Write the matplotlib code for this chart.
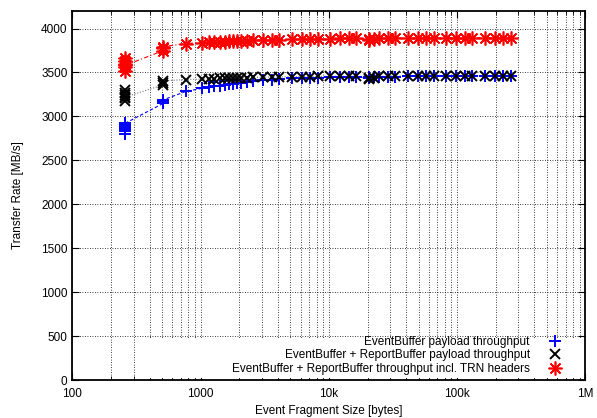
import matplotlib
matplotlib.use("Agg")
import matplotlib.pyplot as plt
from matplotlib.ticker import FixedLocator, LogLocator, NullFormatter, FuncFormatter
from matplotlib.patches import Rectangle

plt.rcParams['font.family'] = ['Liberation Sans', 'DejaVu Sans']

# --- data ---
frag_size = [256, 256, 256, 256, 256, 256,
             512, 512, 512,
             768, 1024, 1152, 1280, 1408, 1536, 1664, 1792, 1920, 2048,
             2304, 2560, 3072, 3584, 4096, 5120, 6144, 7168, 8192,
             10240, 12288, 14336, 16384, 20480, 20480, 22528, 24576,
             28672, 32768, 40960, 49152, 57344, 65536, 81920, 98304,
             114688, 131072, 163840, 196608, 229376, 262144]

eb_payload = [2800, 2830, 2860, 2880, 2900, 2920,
              3150, 3170, 3190,
              3285, 3320, 3330, 3345, 3350, 3360, 3365, 3370, 3378, 3385,
              3395, 3400, 3410, 3420, 3425, 3432, 3437, 3440, 3442,
              3445, 3447, 3448, 3450, 3440, 3452, 3445, 3450,
              3452, 3453, 3455, 3455, 3456, 3456, 3457, 3457,
              3458, 3458, 3458, 3459, 3459, 3459]

eb_rb_payload = [3180, 3210, 3240, 3270, 3300, 3220,
                 3360, 3385, 3405,
                 3420, 3425, 3428, 3430, 3432, 3434, 3436, 3438, 3440, 3441,
                 3443, 3445, 3447, 3449, 3450, 3452, 3453, 3454, 3455,
                 3456, 3456, 3457, 3457, 3425, 3440, 3435, 3455,
                 3458, 3458, 3459, 3459, 3460, 3460, 3460, 3461,
                 3461, 3461, 3461, 3462, 3462, 3462]

eb_rb_trn = [3520, 3560, 3600, 3630, 3660, 3580,
             3750, 3775, 3795,
             3830, 3840, 3845, 3848, 3850, 3852, 3854, 3856, 3858, 3860,
             3862, 3865, 3868, 3872, 3875, 3878, 3880, 3882, 3884,
             3886, 3887, 3888, 3889, 3870, 3885, 3878, 3890,
             3891, 3892, 3893, 3893, 3894, 3894, 3895, 3895,
             3896, 3896, 3896, 3897, 3897, 3897]

labels = ["EventBuffer payload throughput",
          "EventBuffer + ReportBuffer payload throughput",
          "EventBuffer + ReportBuffer throughput incl. TRN headers"]

FS = 8.5

fig = plt.figure(figsize=(5.97, 4.18), dpi=100)
ax = fig.add_axes([0.1214, 0.0909, 0.8593, 0.8828])

# connecting lines
ax.plot(frag_size, eb_payload, color='blue', lw=0.8, ls=(0, (3, 2)), zorder=3)
ax.plot(frag_size, eb_rb_payload, color='#777777', lw=0.8, ls=(0, (1, 1.5)), zorder=3)
ax.plot(frag_size, eb_rb_trn, color='red', lw=0.8, ls=(0, (4, 2, 1, 2)), zorder=3)

# markers
ax.plot(frag_size, eb_payload, ls='none', marker='+', ms=8.5, mew=1.4,
        color='blue', label=labels[0], zorder=4)
ax.plot(frag_size, eb_rb_payload, ls='none', marker='x', ms=7.5, mew=1.4,
        color='black', label=labels[1], zorder=4)
ax.plot(frag_size, eb_rb_trn, ls='none', marker=(8, 2, 0), ms=10, mew=1.2,
        color='red', label=labels[2], zorder=4)

ax.set_xscale('log')
ax.set_xlim(100, 1e6)
ax.set_ylim(0, 4200)

ax.xaxis.set_major_locator(FixedLocator([100, 1000, 10000, 100000, 1000000]))
ax.xaxis.set_major_formatter(FuncFormatter(
    lambda v, p: {100: '100', 1000: '1000', 10000: '10k',
                  100000: '100k', 1000000: '1M'}.get(int(round(v)), '')))
ax.xaxis.set_minor_locator(LogLocator(base=10, subs=range(2, 10), numticks=20))
ax.xaxis.set_minor_formatter(NullFormatter())
ax.yaxis.set_major_locator(FixedLocator(range(0, 4001, 500)))

ax.tick_params(which='both', direction='in', top=True, right=True, labelsize=FS)
ax.tick_params(which='major', length=5, width=0.8)
ax.tick_params(which='minor', length=3, width=0.6)
ax.tick_params(axis='x', pad=6)

ax.grid(which='major', axis='both', color='black', ls=(0, (1, 2)), lw=0.6)
ax.grid(which='minor', axis='x', color='black', ls=(0, (1, 2)), lw=0.6)
ax.set_axisbelow(True)

for sp in ax.spines.values():
    sp.set_linewidth(1.3)

ax.set_xlabel('Event Fragment Size [bytes]', fontsize=FS, labelpad=3)
ax.set_ylabel('Transfer Rate [MB/s]', fontsize=FS, labelpad=12)

# opaque key area like gnuplot
ax.add_patch(Rectangle((0.133, 0.005), 0.862, 0.11, transform=ax.transAxes,
                       facecolor='white', edgecolor='none', zorder=2))

leg = ax.legend(loc='lower right', bbox_to_anchor=(0.9506, 0.091),
                bbox_transform=fig.transFigure, borderaxespad=0,
                markerfirst=False, fontsize=FS, handlelength=1.4,
                handletextpad=1.4, labelspacing=0.15, borderpad=0.4,
                frameon=False)
for t in leg.get_texts():
    t.set_ha('right')
leg._legend_box.align = 'right'

fig.savefig('out.png', dpi=100)
